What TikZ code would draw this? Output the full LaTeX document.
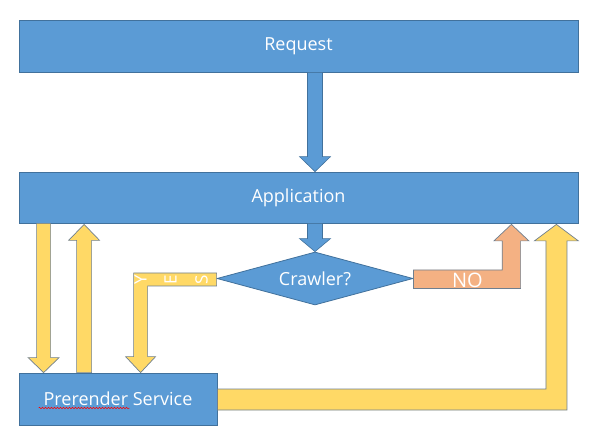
\documentclass[tikz,border=0pt]{standalone}
\usepackage{fontspec}
\setmainfont{Open Sans}
\usetikzlibrary{shapes.geometric, calc, decorations.pathmorphing}
\definecolor{box-blue}{HTML}{5B9BD5}
\definecolor{box-edge}{HTML}{41719C}
\definecolor{flow-yellow}{HTML}{FFD966}
\definecolor{flow-orange}{HTML}{F4B183}
\definecolor{flow-edge}{HTML}{6F7F8F}

\begin{document}
\begin{tikzpicture}[x=1pt, y=-1pt,
        every node/.style={font=\fontsize{18}{22}\selectfont, text=white},
        box/.style={draw=box-edge, fill=box-blue, line width=0.8pt, inner sep=0pt},
        bluearrow/.style={draw=box-edge, fill=box-blue, line width=0.6pt},
        yarrow/.style={draw=flow-edge, fill=flow-yellow, line width=0.7pt},
        narrow/.style={draw=flow-edge, fill=flow-orange, line width=0.7pt},
        letter/.style={rotate=90, inner sep=0pt}]
      \useasboundingbox (0,0) rectangle (589,446);
      \node[box, minimum width=559pt, minimum height=52pt] (req) at (298.5,46) {Request};
      \node[box, minimum width=559pt, minimum height=51pt] (app) at (298.5,197.5) {Application};
      \node[box, minimum width=198pt, minimum height=52pt] (pre) at (118,399) {Prerender Service};
      \node[diamond, box, shape aspect=3.7, minimum width=196pt, minimum height=53pt] (crawler) at (315,278.5) {Crawler?};
      % request to application
      \coordinate (a1) at (crawler.north |- req.south);
      \coordinate (t1) at (crawler.north |- app.north);
      \draw[bluearrow] ($(a1)+(-7.5,0)$) -- ++(15,0) -- ($(t1)+(7.5,-15)$) -- ++(8,0) -- (t1)
            -- ++(-15.5,-15) -- ++(8,0) -- cycle;
      % application to crawler
      \draw[bluearrow] ($(crawler.north |- app.south)+(-7.5,0)$) -- ++(15,0) -- ($(crawler.north)+(7.5,-13)$)
            -- ++(8,0) -- (crawler.north) -- ++(-15.5,-13) -- ++(8,0) -- cycle;
      % application down to prerender, and back up
      \coordinate (d1) at ($(app.south west)+(25,0)$);
      \coordinate (d2) at ($(pre.north west)+(25,0)$);
      \draw[yarrow] ($(d1)+(-7,0)$) -- ++(14,0) -- ($(d2)+(7,-15)$) -- ++(8.5,0) -- (d2)
            -- ++(-15.5,-15) -- ++(8.5,0) -- cycle;
      \coordinate (u1) at ($(pre.north west)+(65.5,0)$);
      \coordinate (u2) at ($(app.south west)+(65.5,1)$);
      \draw[yarrow] ($(u1)+(-7.5,0)$) -- ++(15,0) -- ($(u2)+(7.5,16)$) -- ++(8,0) -- (u2)
            -- ++(-15.5,16) -- ++(8,0) -- cycle;
      % YES branch
      \coordinate (ytip) at ($(pre.north west)+(122,0)$);
      \draw[yarrow] ($(crawler.west)+(0,-5.5)$) -- ($(ytip |- crawler.west)+(-7,-5.5)$) -- ($(ytip)+(-7,-16)$)
            -- ++(-8,0) -- (ytip) -- ++(15,-16) -- ++(-8,0) -- ($(ytip |- crawler.west)+(7,7.5)$)
            -- ($(crawler.west)+(0,7.5)$) -- cycle;
      \foreach \ch/\dx [count=\i] in {Y/0, E/30, S/61}
        \node[letter] (yes-\i) at ($(ytip |- crawler.west)+(\dx,1)$) {\fontsize{17}{18}\selectfont \ch};
      % NO branch
      \coordinate (ntip) at ($(app.south east)+(-67,1)$);
      \draw[narrow] ($(crawler.east)+(0,-8.5)$) -- ($(ntip |- crawler.east)+(-9.2,-8.5)$) -- ($(ntip)+(-9.2,16.5)$)
            -- ++(-8.3,0) -- (ntip) -- ++(17.5,16.5) -- ++(-8.3,0) -- ($(ntip |- crawler.east)+(9.2,10)$)
            -- ($(crawler.east)+(0,10)$) -- cycle;
      \node[font=\fontsize{20}{24}\selectfont] (no) at ($(crawler.east)+(54,2)$) {NO};
      % prerender back to application
      \coordinate (btip) at ($(app.south east)+(-22,1)$);
      \draw[yarrow] ($(pre.east)+(0,-10)$) -- ($(btip |- pre.east)+(-10.5,-10)$) -- ($(btip)+(-10.5,16.5)$)
            -- ++(-11.5,0) -- (btip) -- ++(22,16.5) -- ++(-11.5,0) -- ($(btip |- pre.east)+(10.5,11)$)
            -- ($(pre.east)+(0,11)$) -- cycle;
      \draw[red, line width=0.5pt, decorate, decoration={snake, amplitude=0.8pt, segment length=3pt}]
            ($(pre.west)+(20,9)$) -- ($(pre.west)+(111,9)$);
    \end{tikzpicture}
\end{document}
